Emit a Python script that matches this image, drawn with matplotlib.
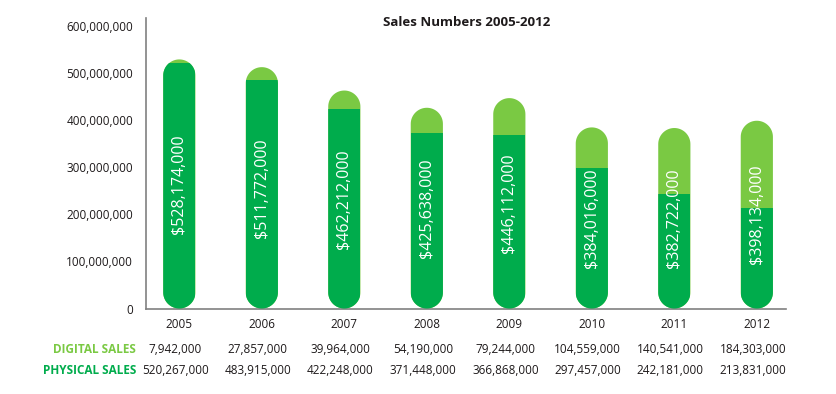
import matplotlib
matplotlib.use("Agg")
import matplotlib.pyplot as plt
from matplotlib.patches import Rectangle, PathPatch
from matplotlib.path import Path
import numpy as np

years = ["2005", "2006", "2007", "2008", "2009", "2010", "2011", "2012"]
digital = [7942000, 27857000, 39964000, 54190000, 79244000, 104559000, 140541000, 184303000]
physical = [520267000, 483915000, 422248000, 371448000, 366868000, 297457000, 242181000, 213831000]
totals = [528174000, 511772000, 462212000, 425638000, 446112000, 384016000, 382722000, 398134000]
yticks = [0, 100000000, 200000000, 300000000, 400000000, 500000000, 600000000]

DARK = "#00AC4C"
LIGHT = "#7AC943"
TEXT = "#1E1A1B"
AXIS = "#808080"

plt.rcParams["font.family"] = ["Open Sans", "DejaVu Sans"]
plt.rcParams["font.weight"] = "medium"

W, H = 836, 394
fig = plt.figure(figsize=(W / 100, H / 100), dpi=100)
left, right, bottom, top = 145.5, 785.7, 308.5, 18
ax = fig.add_axes([left / W, 1 - bottom / H, (right - left) / W, (bottom - top) / H])

xmin, xmax = -0.41, 7.35
ymax = 616e6
ax.set_xlim(xmin, xmax)
ax.set_ylim(0, ymax)

# data units per pixel, so the caps come out as half circles
x_per_px = (xmax - xmin) / (right - left)
y_per_px = ymax / (bottom - top)
bar_w = 0.39
rx = bar_w / 2
ry = rx / x_per_px * y_per_px


def capsule(xc, h):
    t = np.linspace(0, np.pi, 40)
    top_arc = [(xc + rx * np.cos(a), h - ry + ry * np.sin(a)) for a in t]
    bot_arc = [(xc - rx * np.cos(a), ry - ry * np.sin(a)) for a in t]
    verts = top_arc + bot_arc + [top_arc[0]]
    codes = [Path.MOVETO] + [Path.LINETO] * (len(verts) - 2) + [Path.CLOSEPOLY]
    return Path(verts, codes)


x = np.arange(len(years))
for i in x:
    shape = PathPatch(capsule(i, totals[i]), facecolor=LIGHT, edgecolor="none", zorder=2)
    ax.add_patch(shape)
    lower = Rectangle((i - rx, 0), bar_w, physical[i], facecolor=DARK, edgecolor="none", zorder=3)
    ax.add_patch(lower)
    lower.set_clip_path(shape)
    ax.text(i, totals[i] / 2, "${:,}".format(totals[i]), rotation=90, color="white",
            ha="center", va="center", fontsize=11.5, zorder=4)

for s in ["top", "right"]:
    ax.spines[s].set_visible(False)
for s in ["left", "bottom"]:
    ax.spines[s].set_color(AXIS)
    ax.spines[s].set_linewidth(1.2)

ax.set_yticks(yticks)
ax.set_yticklabels(["{:,}".format(v) for v in yticks])
ax.set_xticks(x)
ax.set_xticklabels(years)
ax.tick_params(axis="y", length=0, pad=9, labelsize=8.5, labelcolor=TEXT)
ax.tick_params(axis="x", length=0, pad=7, labelsize=8.5, labelcolor=TEXT)

fig.text(467 / W, 1 - 22 / H, "Sales Numbers 2005-2012", ha="center", va="center",
         fontsize=9.5, fontweight="bold", color=TEXT)

# table under the axis
row_y = [1 - 349.5 / H, 1 - 370 / H]
fig.text(136 / W, row_y[0], "DIGITAL SALES", ha="right", va="center",
         fontsize=8.5, fontweight="bold", color=LIGHT)
fig.text(136 / W, row_y[1], "PHYSICAL SALES", ha="right", va="center",
         fontsize=8.5, fontweight="bold", color=DARK)
for i in x:
    xf = (left + (i - xmin) / x_per_px - 4) / W
    fig.text(xf, row_y[0], "{:,}".format(digital[i]), ha="center", va="center",
             fontsize=8.5, color=TEXT)
    fig.text(xf, row_y[1], "{:,}".format(physical[i]), ha="center", va="center",
             fontsize=8.5, color=TEXT)

fig.savefig("out.png", dpi=100, facecolor="white")
